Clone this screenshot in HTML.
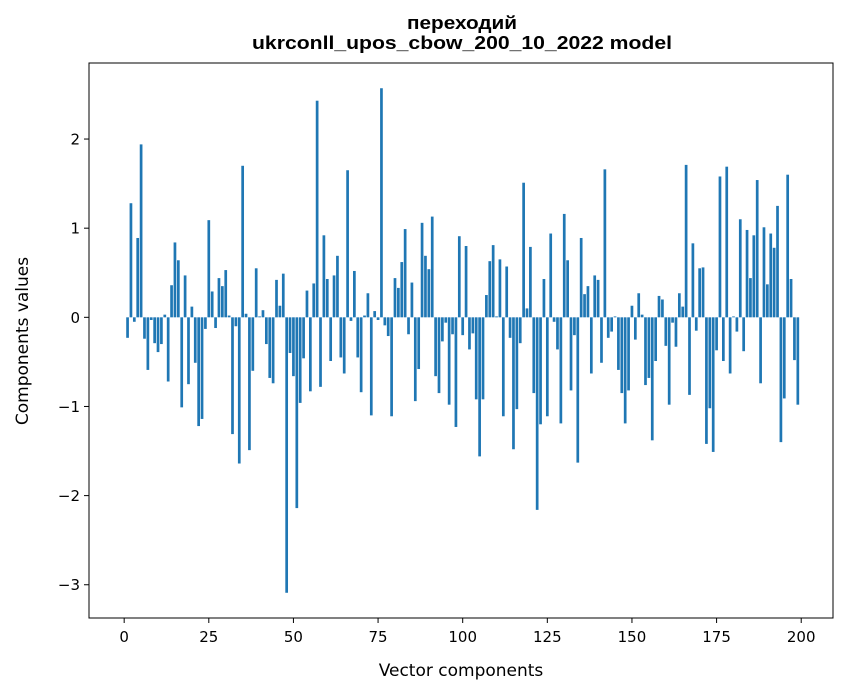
<!DOCTYPE html>
<html><head><meta charset="utf-8"><style>
body{margin:0;background:#fff;}
svg{display:block;font-family:"DejaVu Sans","Liberation Sans",sans-serif;}
</style></head><body>
<svg id="chart" width="847" height="696" viewBox="0 0 847 696" xmlns="http://www.w3.org/2000/svg">
<rect x="0" y="0" width="847" height="696" fill="#fff"/>
<text x="462" y="29" text-anchor="middle" font-size="18" font-weight="bold" font-family="Liberation Sans, sans-serif" textLength="110" lengthAdjust="spacingAndGlyphs">переходий</text>
<text x="462" y="49" text-anchor="middle" font-size="18" font-weight="bold" font-family="Liberation Sans, sans-serif" textLength="420" lengthAdjust="spacingAndGlyphs">ukrconll_upos_cbow_200_10_2022 model</text>
<g id="bars"></g>
<g id="axes"></g>
<text x="461" y="676" text-anchor="middle" font-size="17">Vector components</text>
<text transform="translate(28,341) rotate(-90)" text-anchor="middle" font-size="17">Components values</text>
</svg>
<script>
const values = [0.0,
-0.23,1.28,-0.05,0.89,1.94,-0.24,-0.59,-0.03,-0.29,-0.39,
-0.30,0.03,-0.72,0.36,0.84,0.64,-1.01,0.47,-0.75,0.12,
-0.51,-1.22,-1.14,-0.13,1.09,0.29,-0.12,0.44,0.35,0.53,
0.02,-1.31,-0.10,-1.64,1.70,0.04,-1.49,-0.60,0.55,0.01,
0.08,-0.30,-0.68,-0.74,0.42,0.13,0.49,-3.09,-0.40,-0.66,
-2.14,-0.96,-0.46,0.30,-0.83,0.38,2.43,-0.78,0.92,0.43,
-0.49,0.47,0.69,-0.45,-0.63,1.65,-0.04,0.52,-0.45,-0.84,
0.02,0.27,-1.10,0.07,-0.03,2.57,-0.09,-0.21,-1.11,0.44,
0.33,0.62,0.99,-0.19,0.39,-0.94,-0.58,1.06,0.69,0.54,
1.13,-0.66,-0.85,-0.27,-0.06,-0.98,-0.19,-1.23,0.91,-0.20,
0.80,-0.36,-0.18,-0.92,-1.56,-0.92,0.25,0.63,0.81,0.01,
0.65,-1.11,0.57,-0.23,-1.48,-1.03,-0.29,1.51,0.10,0.79,
-0.85,-2.16,-1.20,0.43,-1.11,0.94,-0.05,-0.36,-1.19,1.16,
0.64,-0.82,-0.20,-1.63,0.89,0.26,0.35,-0.63,0.47,0.42,
-0.51,1.66,-0.23,-0.16,0.01,-0.59,-0.85,-1.19,-0.82,0.13,
-0.25,0.27,0.03,-0.76,-0.68,-1.38,-0.49,0.24,0.20,-0.32,
-0.98,-0.06,-0.33,0.27,0.12,1.71,-0.87,0.83,-0.15,0.55,
0.56,-1.42,-1.02,-1.51,-0.37,1.58,-0.49,1.69,-0.63,0.01,
-0.16,1.10,-0.38,0.98,0.44,0.92,1.54,-0.74,1.01,0.37,
0.94,0.78,1.25,-1.40,-0.91,1.60,0.43,-0.48,-0.98];
const xTicks = [0,25,50,75,100,125,150,175,200];
const yTicks = [-3,-2,-1,0,1,2];

const L=89,R=833,T=63,B=618;
const xmin=-10.39,xmax=209.39,ymin=-3.373,ymax=2.853;
const sx=v=>L+(v-xmin)/(xmax-xmin)*(R-L);
const sy=v=>B-(v-ymin)/(ymax-ymin)*(B-T);
const NS="http://www.w3.org/2000/svg";
const bars=document.getElementById('bars');
values.forEach((v,i)=>{
  const r=document.createElementNS(NS,'rect');
  const x0=sx(i-0.4),x1=sx(i+0.4);
  const y0=sy(Math.max(v,0)),y1=sy(Math.min(v,0));
  r.setAttribute('x',x0);r.setAttribute('width',x1-x0);
  r.setAttribute('y',y0);r.setAttribute('height',Math.max(y1-y0,0));
  r.setAttribute('fill','#1f77b4');
  
  
  bars.appendChild(r);
});
const axes=document.getElementById('axes');
function add(tag,attrs,text){const e=document.createElementNS(NS,tag);for(const k in attrs)e.setAttribute(k,attrs[k]);if(text!==undefined)e.textContent=text;axes.appendChild(e);return e;}
const frame=add('rect',{x:L,y:T,width:R-L,height:B-T,fill:'none',stroke:'#000','stroke-width':1});


xTicks.forEach(t=>{
  const x=sx(t);
  const l=add('line',{x1:x,x2:x,y1:B,y2:B+5,stroke:'#000'});
  
  
  const tx=add('text',{x:x,y:B+24,'text-anchor':'middle','font-size':15},String(t));
  
  
});
yTicks.forEach(t=>{
  const y=sy(t);
  const l=add('line',{x1:L-5,x2:L,y1:y,y2:y,stroke:'#000'});
  
  
  const tx=add('text',{x:L-9,y:y+5.5,'text-anchor':'end','font-size':15},t<0?'\u2212'+Math.abs(t):String(t));
  
  
});
</script>
</body></html>
